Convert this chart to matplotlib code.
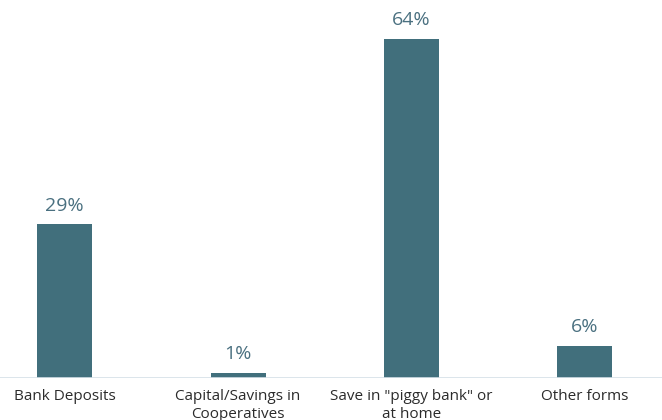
import matplotlib.pyplot as plt

categories = ["Bank Deposits", "Capital/Savings in\nCooperatives", "Save in \"piggy bank\" or\nat home", "Other forms"]
values = [29, 1, 64, 6]
value_labels = ["29%", "1%", "64%", "6%"]

bar_color = "#416f7c"
text_color = "#4a7080"

fig = plt.figure(figsize=(6.62, 4.2), dpi=100)
ax = fig.add_axes([0, 42 / 420, 1, 1 - 42 / 420])

x = list(range(len(categories)))
ax.bar(x, values, width=0.317, color=bar_color)

for i, v in enumerate(values):
    ax.annotate(value_labels[i], (i, v), xytext=(0, 7), textcoords="offset points",
                ha="center", va="bottom", fontsize=14, color=text_color, family="Open Sans")

for i, c in enumerate(categories):
    ax.annotate(c, (i, 0), xytext=(0, -8), textcoords="offset points",
                ha="center", va="top", fontsize=11, color="#2b2b2b", family="Open Sans",
                linespacing=1.3, annotation_clip=False)

ax.set_xlim(-0.372, 3.444)
ax.set_ylim(0, 71.36)
ax.axhline(0, color="#d5e0e8", linewidth=1.2)
for s in ax.spines.values():
    s.set_visible(False)
ax.set_xticks([])
ax.set_yticks([])

fig.savefig("out.png", dpi=100)
